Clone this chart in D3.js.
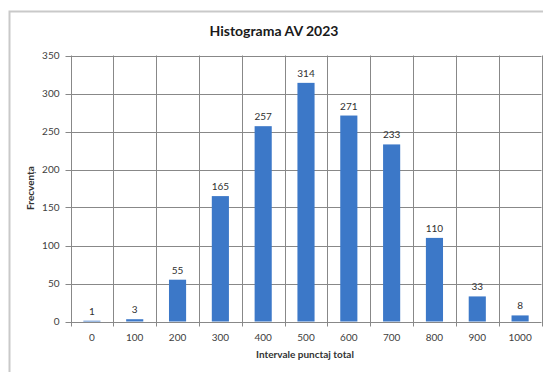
<!DOCTYPE html>
<html>
<head>
<meta charset="utf-8">
<script src="https://cdn.jsdelivr.net/npm/d3@7"></script>
<style>
  html, body { margin: 0; padding: 0; background: #fff; }
  svg { display: block; }
</style>
</head>
<body>
<svg id="chart" width="543" height="372"></svg>
<script>
// Histogram of total scores, 2023
const categories = ["0", "100", "200", "300", "400", "500", "600", "700", "800", "900", "1000"];
const frequencies = [1, 3, 55, 165, 257, 314, 271, 233, 110, 33, 8];
const yTicks = [0, 50, 100, 150, 200, 250, 300, 350];

const titleText = "Histograma AV 2023";
const xTitle = "Intervale punctaj total";
const yTitle = "Frecvența";

const svg = d3.select("#chart");
const font = "Lato, 'Open Sans', sans-serif";

const plot = { left: 70.5, right: 541.5, top: 55.5, bottom: 321.5 };

// outer chart frame
svg.append("path")
  .attr("d", "M9.5,372 L9.5,11.5 L543,11.5")
  .attr("fill", "none")
  .attr("stroke", "#c9c9c9")
  .attr("stroke-width", 2);

const x = d3.scaleBand()
  .domain(categories)
  .range([plot.left, plot.right])
  .paddingInner(0)
  .paddingOuter(0);

const y = d3.scaleLinear()
  .domain([0, 350])
  .range([plot.bottom, plot.top]);

const grid = "#888888";

// horizontal gridlines
svg.append("g")
  .selectAll("line")
  .data(yTicks)
  .join("line")
  .attr("x1", plot.left - 5)
  .attr("x2", plot.right)
  .attr("y1", d => Math.round(y(d)) + 0.5)
  .attr("y2", d => Math.round(y(d)) + 0.5)
  .attr("stroke", grid)
  .attr("stroke-width", 1);

// vertical gridlines at category boundaries, with tick marks below the axis
const bounds = categories.map(c => x(c)).concat([x(categories[categories.length - 1]) + x.bandwidth()]);
svg.append("g")
  .selectAll("line")
  .data(bounds)
  .join("line")
  .attr("x1", d => Math.round(d) + 0.5)
  .attr("x2", d => Math.round(d) + 0.5)
  .attr("y1", plot.top)
  .attr("y2", plot.bottom + 5)
  .attr("stroke", grid)
  .attr("stroke-width", 1);

// y tick labels
svg.append("g")
  .selectAll("text")
  .data(yTicks)
  .join("text")
  .attr("x", plot.left - 11)
  .attr("y", d => y(d))
  .attr("dy", "0.35em")
  .attr("text-anchor", "end")
  .attr("font-family", font)
  .attr("font-size", 10)
  .attr("fill", "#404040")
  .text(d => d);

// bars
const barW = x.bandwidth() / 2.5;
svg.append("g")
  .selectAll("rect")
  .data(frequencies)
  .join("rect")
  .attr("x", (d, i) => x(categories[i]) + (x.bandwidth() - barW) / 2)
  .attr("y", d => y(d))
  .attr("width", barW)
  .attr("height", d => y(0) - y(d))
  .attr("fill", "#3c78c8");

// value labels
svg.append("g")
  .selectAll("text")
  .data(frequencies)
  .join("text")
  .attr("x", (d, i) => x(categories[i]) + x.bandwidth() / 2)
  .attr("y", d => y(d) - 6)
  .attr("text-anchor", "middle")
  .attr("font-family", font)
  .attr("font-size", 10)
  .attr("fill", "#303030")
  .text(d => d);

// x tick labels
svg.append("g")
  .selectAll("text")
  .data(categories)
  .join("text")
  .attr("x", d => x(d) + x.bandwidth() / 2)
  .attr("y", 341)
  .attr("text-anchor", "middle")
  .attr("font-family", font)
  .attr("font-size", 10)
  .attr("fill", "#404040")
  .text(d => d);

// titles
svg.append("text")
  .attr("x", 274)
  .attr("y", 36)
  .attr("text-anchor", "middle")
  .attr("font-family", font)
  .attr("font-weight", "bold")
  .attr("font-size", 14)
  .attr("fill", "#1a1a1a")
  .text(titleText);

svg.append("text")
  .attr("x", 305)
  .attr("y", 358)
  .attr("text-anchor", "middle")
  .attr("font-family", font)
  .attr("font-weight", "bold")
  .attr("font-size", 10)
  .attr("fill", "#333")
  .text(xTitle);

svg.append("text")
  .attr("transform", "translate(34,188) rotate(-90)")
  .attr("text-anchor", "middle")
  .attr("font-family", font)
  .attr("font-weight", "bold")
  .attr("font-size", 10)
  .attr("fill", "#333")
  .text(yTitle);
</script>
</body>
</html>
